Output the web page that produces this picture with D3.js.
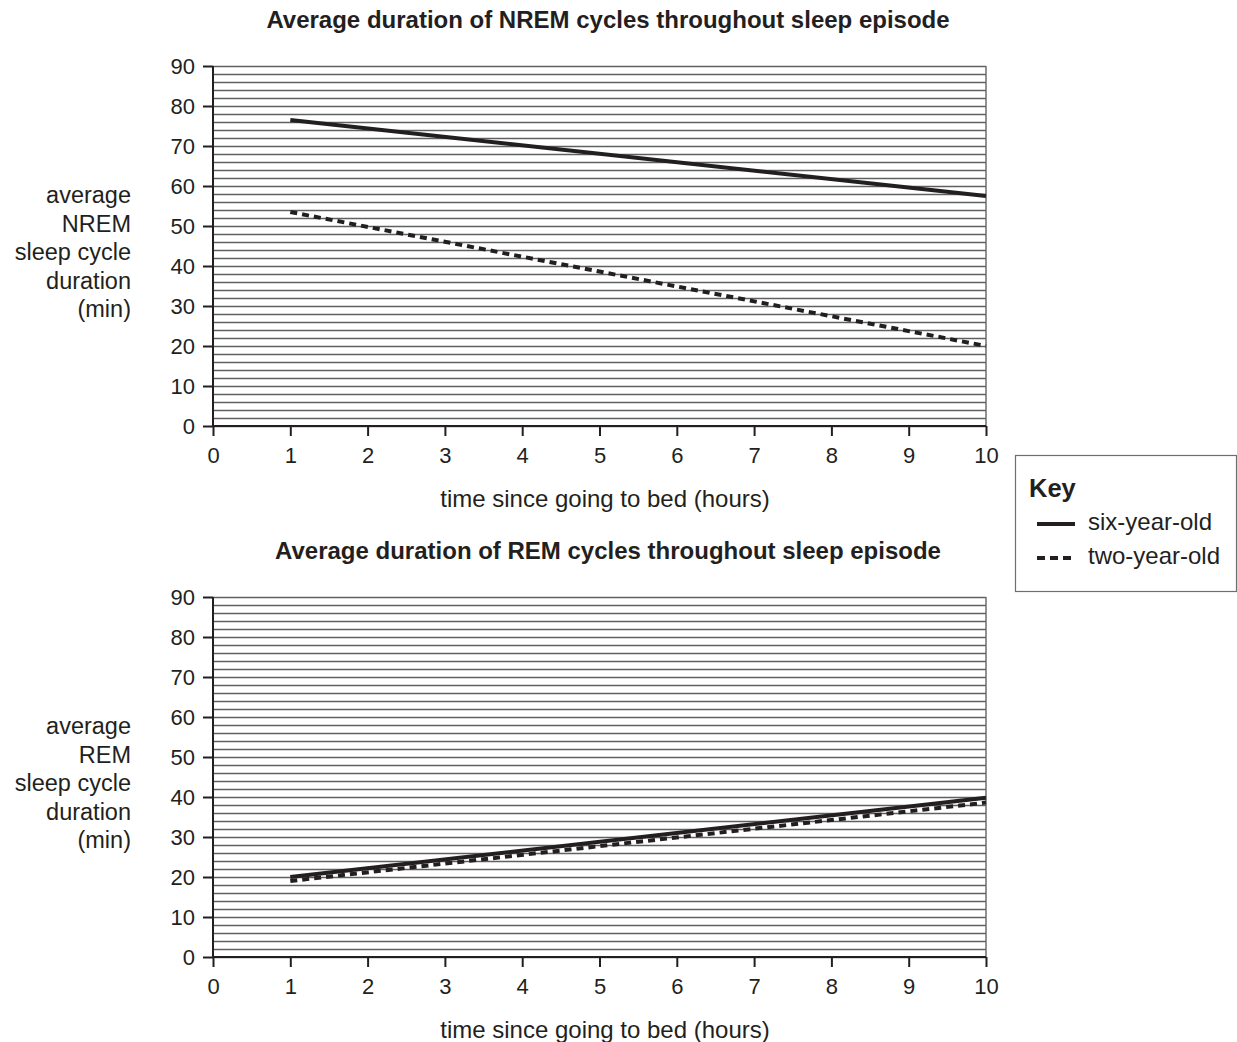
<!DOCTYPE html>
<html>
<head>
<meta charset="utf-8">
<script src="https://cdn.jsdelivr.net/npm/d3@7"></script>
<style>
  body { margin: 0; background: #fff; }
  text { font-family: Arial, "Liberation Sans", sans-serif; fill: #231f20; }
</style>
</head>
<body>
<div id="chart"></div>
<script>
// hours since going to bed (line endpoints)
const hours = [1, 10];
const nremSix = [76.5, 57.5];
const nremTwo = [53.5, 20];
const remSix = [20, 39.8];
const remTwo = [19, 38.6];
const xTicks = [0, 1, 2, 3, 4, 5, 6, 7, 8, 9, 10];
const yTicks = [0, 10, 20, 30, 40, 50, 60, 70, 80, 90];
const gridVals = d3.range(0, 91, 2);

const W = 1237, H = 1042;
const svg = d3.select("#chart").append("svg")
  .attr("width", W)
  .attr("height", H);

const x = d3.scaleLinear().domain([0, 10]).range([213, 986]);

function panel(top, title, yLabel, six, two) {
  const y = d3.scaleLinear().domain([0, 90]).range([top + 360, top]);
  const g = svg.append("g");

  // grid
  g.selectAll("line.grid").data(gridVals).enter().append("line")
    .attr("class", "grid")
    .attr("x1", x(0)).attr("x2", x(10))
    .attr("y1", d => y(d) + 0.5).attr("y2", d => y(d) + 0.5)
    .attr("stroke", "#5f6062").attr("stroke-width", 1.3);
  g.append("line")
    .attr("x1", x(10)).attr("x2", x(10))
    .attr("y1", y(90)).attr("y2", y(0))
    .attr("stroke", "#6d6e71").attr("stroke-width", 1.5);

  // axes
  const yAxis = g.append("g").attr("transform", `translate(${x(0)},0)`)
    .call(d3.axisLeft(y).tickValues(yTicks).tickSize(10).tickPadding(8));
  const xAxis = g.append("g").attr("transform", `translate(0,${y(0)})`)
    .call(d3.axisBottom(x).tickValues(xTicks).tickSize(10).tickPadding(11));
  [yAxis, xAxis].forEach(a => {
    a.select(".domain").attr("stroke", "#231f20").attr("stroke-width", 2);
    a.selectAll(".tick line").attr("stroke", "#231f20").attr("stroke-width", 2);
    a.selectAll(".tick text").attr("font-size", 22).attr("fill", "#231f20");
  });
  xAxis.select(".domain").attr("d", `M${x(0)},0H${x(10)}`);
  yAxis.select(".domain").attr("d", `M0,${y(0)}V${y(90)}`);

  // title
  g.append("text")
    .attr("x", 608).attr("y", top - 38)
    .attr("text-anchor", "middle")
    .attr("font-size", 24).attr("font-weight", "bold")
    .text(title);

  // x label
  g.append("text")
    .attr("x", 605).attr("y", top + 441)
    .attr("text-anchor", "middle")
    .attr("font-size", 24)
    .text("time since going to bed (hours)");

  // y label
  const yl = g.append("text")
    .attr("text-anchor", "end")
    .attr("font-size", 23.5);
  yLabel.forEach((s, i) => {
    yl.append("tspan").attr("x", 131).attr("y", top + 137 + i * 28.5).text(s);
  });

  const line = d3.line().x((d, i) => x(hours[i])).y(d => y(d));
  g.append("path").datum(two)
    .attr("d", line).attr("fill", "none")
    .attr("stroke", "#231f20").attr("stroke-width", 4)
    .attr("stroke-dasharray", "7,5");
  g.append("path").datum(six)
    .attr("d", line).attr("fill", "none")
    .attr("stroke", "#231f20").attr("stroke-width", 4);
}

panel(66, "Average duration of NREM cycles throughout sleep episode",
  ["average", "NREM", "sleep cycle", "duration", "(min)"], nremSix, nremTwo);
panel(597, "Average duration of REM cycles throughout sleep episode",
  ["average", "REM", "sleep cycle", "duration", "(min)"], remSix, remTwo);

// key
const key = svg.append("g");
key.append("rect")
  .attr("x", 1015.5).attr("y", 455.5).attr("width", 221).attr("height", 136)
  .attr("fill", "#fff").attr("stroke", "#6d6e71").attr("stroke-width", 1.2);
key.append("text").attr("x", 1029).attr("y", 497)
  .attr("font-size", 25.5).attr("font-weight", "bold").text("Key");
const keyItems = [
  { label: "six-year-old", dash: null },
  { label: "two-year-old", dash: "8,5" }
];
keyItems.forEach((k, i) => {
  const yy = 524 + i * 34;
  key.append("line")
    .attr("x1", 1037).attr("x2", 1075).attr("y1", yy).attr("y2", yy)
    .attr("stroke", "#231f20").attr("stroke-width", 4)
    .attr("stroke-dasharray", k.dash);
  key.append("text").attr("x", 1088).attr("y", yy + 6)
    .attr("font-size", 24).text(k.label);
});
</script>
</body>
</html>
